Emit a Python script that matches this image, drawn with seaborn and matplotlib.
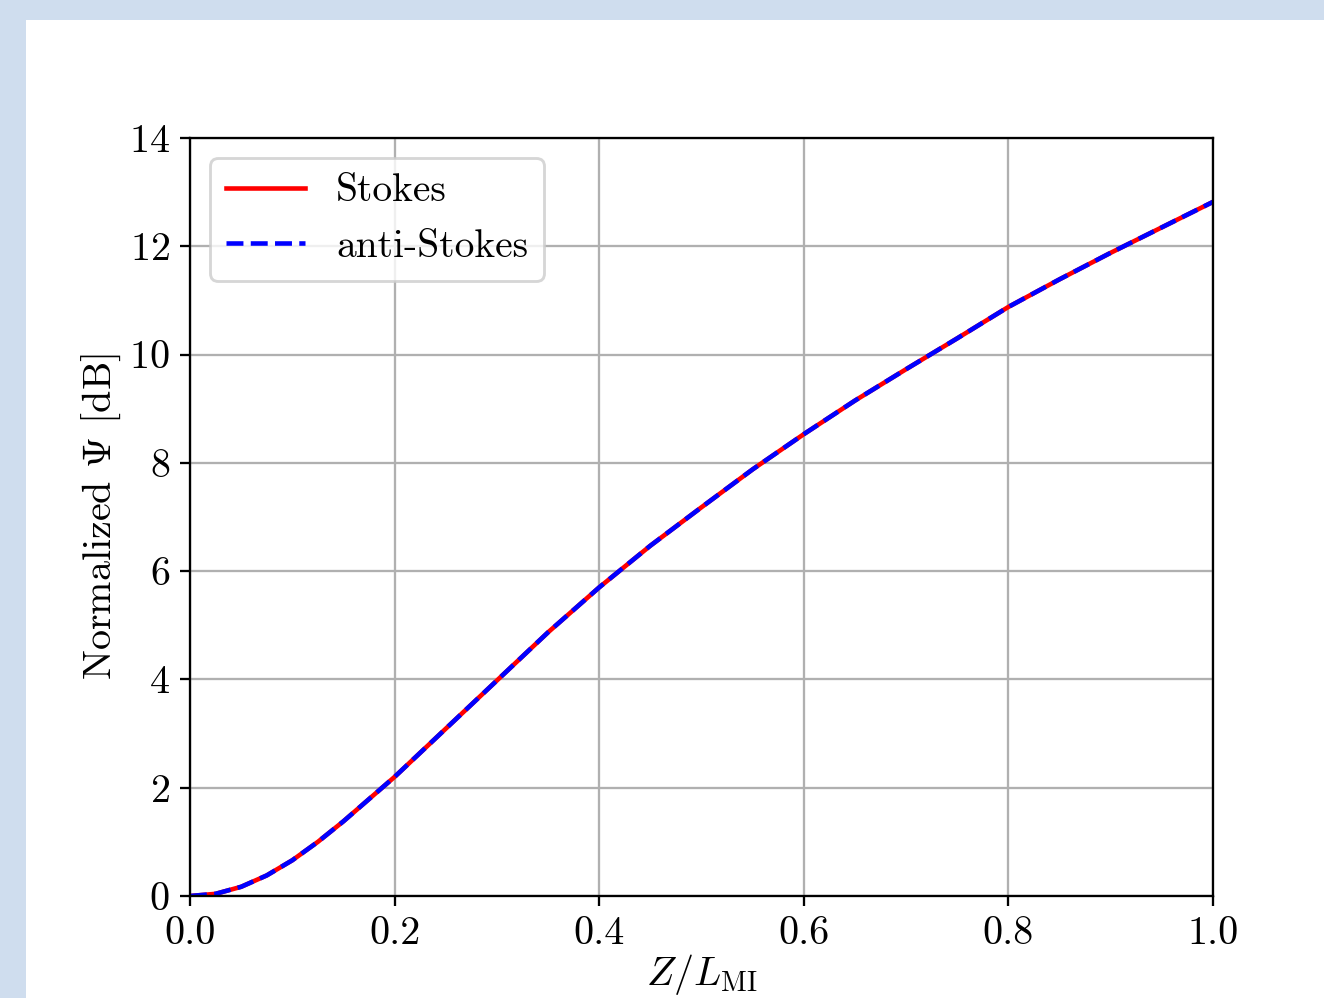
# Normalized gain of Stokes / anti-Stokes along the fibre

import numpy as np
import pandas as pd
import matplotlib
matplotlib.use('Agg')
import matplotlib.pyplot as plt
import seaborn as sns
from matplotlib.patches import Rectangle

# Data
z = [0.0, 0.025, 0.05, 0.075, 0.10, 0.125, 0.15, 0.20, 0.25, 0.30, 0.35, 0.40,
     0.45, 0.50, 0.55, 0.60, 0.65, 0.70, 0.75, 0.80, 0.85, 0.90, 0.95, 1.0]
stokes = [0.0, 0.04, 0.17, 0.38, 0.66, 1.0, 1.38, 2.20, 3.09, 3.98, 4.87, 5.70,
          6.47, 7.18, 7.88, 8.53, 9.15, 9.73, 10.30, 10.88, 11.39, 11.88, 12.35, 12.82]
anti_stokes = [0.0, 0.04, 0.17, 0.38, 0.66, 1.0, 1.38, 2.20, 3.09, 3.98, 4.87, 5.70,
               6.47, 7.18, 7.88, 8.53, 9.15, 9.73, 10.30, 10.88, 11.39, 11.88, 12.35, 12.82]
x_ticks = [0.0, 0.2, 0.4, 0.6, 0.8, 1.0]
x_ticklabels = ['0.0', '0.2', '0.4', '0.6', '0.8', '1.0']
y_ticks = [0, 2, 4, 6, 8, 10, 12, 14]

df = pd.DataFrame({'z': z, 'stokes': stokes, 'anti_stokes': anti_stokes})

# LaTeX-like look
plt.rcParams['font.family'] = 'serif'
plt.rcParams['font.serif'] = ['cmr10']
plt.rcParams['mathtext.fontset'] = 'cm'
plt.rcParams['axes.formatter.use_mathtext'] = True
plt.rcParams['axes.unicode_minus'] = False
plt.rcParams['font.size'] = 14

W, H, DPI = 1324, 998, 206
fig = plt.figure(figsize=(W / DPI, H / DPI), dpi=DPI)
fig.patch.set_facecolor('#cfddee')
# white page of the figure, shifted like in the screenshot
fig.patches.append(Rectangle((26 / W, 0), 1, 1 - 20 / H, transform=fig.transFigure,
                             facecolor='white', edgecolor='none', zorder=-10))

ax = fig.add_axes([190 / W, 1 - 896 / H, 1023 / W, 758 / H])
ax.set_zorder(1)

sns.lineplot(data=df, x='z', y='stokes', ax=ax, color='red', linestyle='-',
             linewidth=1.6, label='Stokes')
sns.lineplot(data=df, x='z', y='anti_stokes', ax=ax, color='blue', linestyle='--',
             linewidth=1.6, label='anti-Stokes')

ax.set_xlim(0, 1)
ax.set_ylim(0, 14)
ax.set_xticks(x_ticks)
ax.set_yticks(y_ticks)
ax.set_xticklabels(x_ticklabels)
ax.tick_params(labelsize=14)
ax.grid(True, color='#b0b0b0', linewidth=0.8)
ax.set_axisbelow(True)
ax.set_xlabel(r'$Z/L_{\mathrm{MI}}$', fontsize=14, labelpad=0)
ax.set_ylabel(r'Normalized $\Psi$ [dB]', fontsize=14, labelpad=2)
ax.legend(loc='upper left', fontsize=13.8)

fig.savefig('out.png', dpi=DPI, facecolor=fig.get_facecolor())
